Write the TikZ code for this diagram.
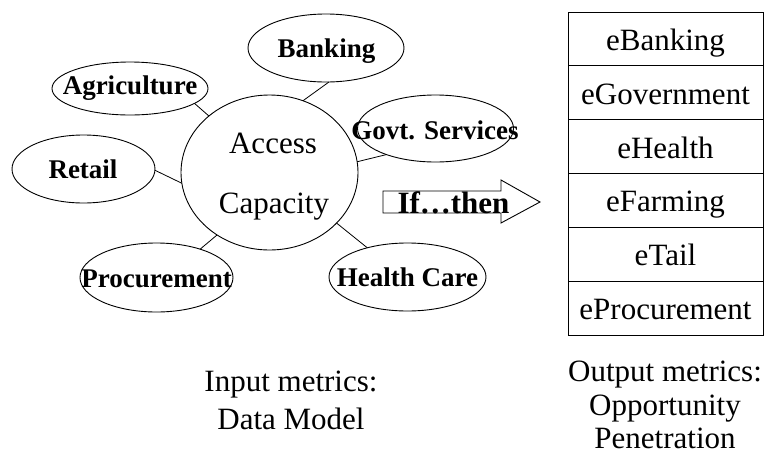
\documentclass[tikz,border=0pt]{standalone}
\usepackage{fontspec}
\setmainfont{Liberation Serif}
\usepackage{tikz}
\usetikzlibrary{shapes.geometric}

\tikzset{
  sector/.style={draw, ellipse, inner sep=0pt, outer sep=0pt, line width=0.9pt},
  tag/.style={font=\fontsize{27}{32}\selectfont\bfseries, anchor=base, inner sep=0pt},
  plain/.style={font=\fontsize{31}{38}\selectfont, anchor=base, inner sep=0pt},
  row/.style={draw, line width=0.9pt, minimum width=195pt, minimum height=53.83pt,
    inner sep=0pt, outer sep=0pt, text height=23pt, text depth=0pt,
    font=\fontsize{31}{38}\selectfont},
  link/.style={line width=0.8pt}
}

\begin{document}
\begin{tikzpicture}[x=1pt, y=-1pt]
            \useasboundingbox (0,0) rectangle (764,456);
            % centre
            \node[sector, minimum width=177pt, minimum height=155pt] (acc) at (269.5,172.5) {};
            \node[plain] (acc-a) at (273,153) {Access};
            \node[plain] (acc-b) at (274,213) {Capacity};
            % sectors round it
            \foreach \nm/\x/\y/\w/\h in {agri/130/88.5/156/53, bank/326/48/156/68, govt/435.5/128.5/156/67,
                retail/83.5/169/143/68, proc/156.5/277.5/153/69, health/407.5/277/157/68}
            \node[sector, minimum width=\w pt, minimum height=\h pt] (\nm) at (\x,\y) {};
            \foreach \nm/\txt/\x/\y in {agri/Agriculture/130/94, bank/Banking/326.5/57, govt/Govt. Services/435/139,
                retail/Retail/83/178, proc/Procurement/156.7/287, health/Health Care/407.5/286}
            \node[tag] (\nm-txt) at (\x,\y) {\txt};
            \foreach \a/\nm/\b in {137/agri/-13, 65/bank/-85, 7/govt/208, 187/retail/-1, 230/proc/33, -37/health/144}
            \draw[link] (acc.\a) -- (\nm.\b);
            % if...then arrow
            \draw[line width=0.9pt] (383,191) -- (501,191) -- (501,180) -- (540,202) -- (501,223) -- (501,213) -- (383,213) -- cycle;
            \node[tag, font=\fontsize{31}{36}\selectfont\bfseries] (ifthen) at (453.5,213) {If…then};
            % output table
            \foreach \name [count=\i] in {eBanking, eGovernment, eHealth, eFarming, eTail, eProcurement}
            \node[row] (row\i) at (665.5,{12+53.83*(\i-0.5)}) {\name};
            % metrics
            \node[plain] (in1) at (291,391) {Input metrics:};
            \node[plain] (in2) at (291,429) {Data Model};
            \node[plain] (out1) at (665,381) {Output metrics:};
            \node[plain] (out2) at (665,415) {Opportunity};
            \node[plain] (out3) at (665,448) {Penetration};
        \end{tikzpicture}
\end{document}
